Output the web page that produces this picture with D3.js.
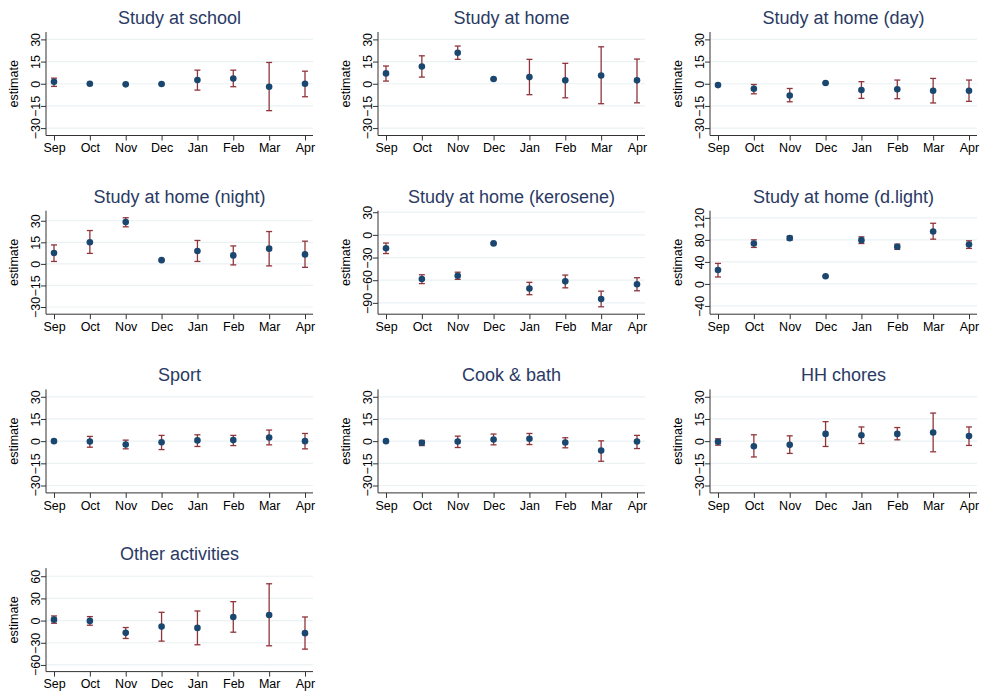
<!DOCTYPE html>
<html>
<head>
<meta charset="utf-8">
<script src="https://cdn.jsdelivr.net/npm/d3@7"></script>
<style>
  body { margin: 0; background: #fff; }
  svg { display: block; font-family: "Liberation Sans", Arial, sans-serif; }
</style>
</head>
<body>
<div id="chart"></div>
<script>
const width = 982;
const height = 697;

const months = ["Sep", "Oct", "Nov", "Dec", "Jan", "Feb", "Mar", "Apr"];

const titles = [
  "Study at school", "Study at home", "Study at home (day)",
  "Study at home (night)", "Study at home (kerosene)", "Study at home (d.light)",
  "Sport", "Cook & bath", "HH chores",
  "Other activities"
];

// point estimates, one array per panel
const estimates = [
  [1.3, 0, -0.4, -0.2, 2.5, 3.6, -2.0, 0],
  [7.0, 11.7, 21.0, 3.2, 4.5, 2.3, 5.6, 2.3],
  [-0.9, -3.4, -7.9, 0.5, -4.3, -3.8, -4.7, -4.7],
  [7.6, 15.1, 29.1, 2.6, 9.0, 5.9, 10.6, 6.6],
  [-17.7, -58.4, -54.1, -11.3, -71.0, -61.5, -84.8, -65.4],
  [25.3, 73.4, 83.1, 13.9, 79.5, 67.5, 95.2, 71.7],
  [0, -0.2, -2.3, -0.7, 0.5, 0.7, 2.5, 0],
  [0, -1.1, -0.2, 1.1, 1.6, -0.9, -6.4, -0.2],
  [-0.4, -3.4, -2.5, 4.9, 4.0, 4.9, 5.8, 3.4],
  [1.3, -0.4, -16.6, -8.1, -9.9, 4.9, 7.6, -17.0]
];

// upper confidence bounds
const upper = [
  [3.8, 0.3, -0.1, 0.1, 9.2, 9.2, 14.4, 8.5],
  [12.0, 18.9, 25.5, 3.6, 16.5, 13.8, 25.0, 16.7],
  [-0.6, -0.5, -3.2, 0.8, 1.4, 2.5, 3.6, 2.5],
  [13.2, 23.2, 32.1, 3.0, 16.3, 12.5, 22.5, 15.8],
  [-10.8, -52.8, -49.4, -10.5, -62.8, -53.2, -74.5, -56.7],
  [37.3, 80.1, 86.7, 14.8, 85.5, 72.3, 110.2, 78.3],
  [0.3, 3.2, 0.7, 3.9, 4.3, 3.9, 7.5, 5.2],
  [0.3, 0.5, 3.4, 4.8, 5.2, 2.3, 0.2, 3.9],
  [1.6, 4.3, 3.6, 13.2, 9.6, 9.2, 19.0, 9.6],
  [6.3, 5.4, -9.4, 11.2, 13.0, 25.6, 49.8, 4.9]
];

// lower confidence bounds
const lower = [
  [-1.8, -0.3, -0.7, -0.5, -4.3, -2.0, -18.2, -8.8],
  [1.8, 4.5, 16.5, 2.8, -7.4, -9.5, -13.5, -12.9],
  [-1.2, -6.8, -12.2, 0.2, -9.9, -10.1, -13.0, -11.9],
  [1.7, 7.3, 25.8, 2.2, 1.7, -0.7, -1.4, -2.4],
  [-24.7, -64.5, -58.9, -12.1, -79.2, -70.1, -95.2, -74.0],
  [12.6, 66.3, 79.5, 13.0, 73.4, 62.7, 81.3, 64.5],
  [-0.3, -4.1, -5.2, -5.7, -3.6, -3.0, -2.5, -5.2],
  [-0.3, -3.0, -4.3, -2.5, -2.3, -4.5, -13.6, -5.0],
  [-2.7, -10.7, -8.3, -3.6, -1.6, 0.9, -7.2, -2.9],
  [-3.6, -6.3, -24.2, -27.8, -32.7, -15.7, -34.1, -38.6]
];

// y axis ranges and tick labels per panel
const yDomains = [
  [-35, 35], [-35, 35], [-35, 35],
  [-35, 37], [-105, 32], [-55, 133],
  [-35, 35], [-35, 35], [-35, 35],
  [-69, 71]
];
const yTicks = [
  [-30, -15, 0, 15, 30], [-30, -15, 0, 15, 30], [-30, -15, 0, 15, 30],
  [-30, -15, 0, 15, 30], [-90, -60, -30, 0, 30], [-40, 0, 40, 80, 120],
  [-30, -15, 0, 15, 30], [-30, -15, 0, 15, 30], [-30, -15, 0, 15, 30],
  [-60, -30, 0, 30, 60]
];

const colWidth = 332;
const rowHeight = 178.7;
const plotLeft = 46, plotRight = 313, plotTop = 32, plotBottom = 135.5;

const svg = d3.select("#chart").append("svg")
  .attr("width", width)
  .attr("height", height);

titles.forEach((title, i) => {
  const col = i % 3;
  const row = Math.floor(i / 3);
  const g = svg.append("g")
    .attr("transform", `translate(${col * colWidth},${row * rowHeight})`);

  const x = d3.scalePoint()
    .domain(months)
    .range([plotLeft + 8, plotRight - 8]);

  const y = d3.scaleLinear()
    .domain(yDomains[i])
    .range([plotBottom, plotTop]);

  // gridlines
  g.selectAll("line.grid")
    .data(yTicks[i])
    .join("line")
    .attr("class", "grid")
    .attr("x1", plotLeft)
    .attr("x2", plotRight)
    .attr("y1", d => y(d))
    .attr("y2", d => y(d))
    .attr("stroke", "#eaf2f3")
    .attr("stroke-width", 1.2);

  // y axis
  const yAxis = g.append("g")
    .attr("transform", `translate(${plotLeft},0)`)
    .call(d3.axisLeft(y).tickValues(yTicks[i]).tickSize(5).tickPadding(3)
      .tickFormat(d => d < 0 ? "\u2212" + Math.abs(d) : d));
  yAxis.select(".domain").attr("stroke", "#333").attr("d", `M0,${plotTop}V${plotBottom}`);
  yAxis.selectAll(".tick line").attr("stroke", "#333");
  yAxis.selectAll(".tick text")
    .attr("font-size", 12.5)
    .attr("fill", "#000")
    .attr("text-anchor", "middle")
    .attr("transform", "rotate(-90)")
    .attr("x", 0)
    .attr("y", -6.5)
    .attr("dy", "0");

  // x axis
  const xAxis = g.append("g")
    .attr("transform", `translate(0,${plotBottom})`)
    .call(d3.axisBottom(x).tickSize(5).tickPadding(3));
  xAxis.select(".domain").attr("stroke", "#333").attr("d", `M${plotLeft},0H${plotRight}`);
  xAxis.selectAll(".tick line").attr("stroke", "#333");
  xAxis.selectAll(".tick text").attr("font-size", 12.5).attr("fill", "#000");

  // y axis title
  g.append("text")
    .attr("transform", `translate(18,${(plotTop + plotBottom) / 2}) rotate(-90)`)
    .attr("text-anchor", "middle")
    .attr("font-size", 12.5)
    .attr("fill", "#000")
    .text("estimate");

  // panel title
  g.append("text")
    .attr("x", (plotLeft + plotRight) / 2)
    .attr("y", 24)
    .attr("text-anchor", "middle")
    .attr("font-size", 18)
    .attr("fill", "#2a3a64")
    .text(title);

  const rows = months.map((m, j) => ({ m, est: estimates[i][j], lo: lower[i][j], hi: upper[i][j] }));

  // error bars
  const bars = g.selectAll("g.bar")
    .data(rows)
    .join("g")
    .attr("class", "bar")
    .attr("stroke", "#90353b")
    .attr("stroke-width", 1.3);
  bars.append("line")
    .attr("x1", d => x(d.m)).attr("x2", d => x(d.m))
    .attr("y1", d => y(d.lo)).attr("y2", d => y(d.hi));
  bars.append("line")
    .attr("x1", d => x(d.m) - 3).attr("x2", d => x(d.m) + 3)
    .attr("y1", d => y(d.lo)).attr("y2", d => y(d.lo));
  bars.append("line")
    .attr("x1", d => x(d.m) - 3).attr("x2", d => x(d.m) + 3)
    .attr("y1", d => y(d.hi)).attr("y2", d => y(d.hi));

  // points
  g.selectAll("circle")
    .data(rows)
    .join("circle")
    .attr("cx", d => x(d.m))
    .attr("cy", d => y(d.est))
    .attr("r", 3.3)
    .attr("fill", "#1a476f");
});
</script>
</body>
</html>
